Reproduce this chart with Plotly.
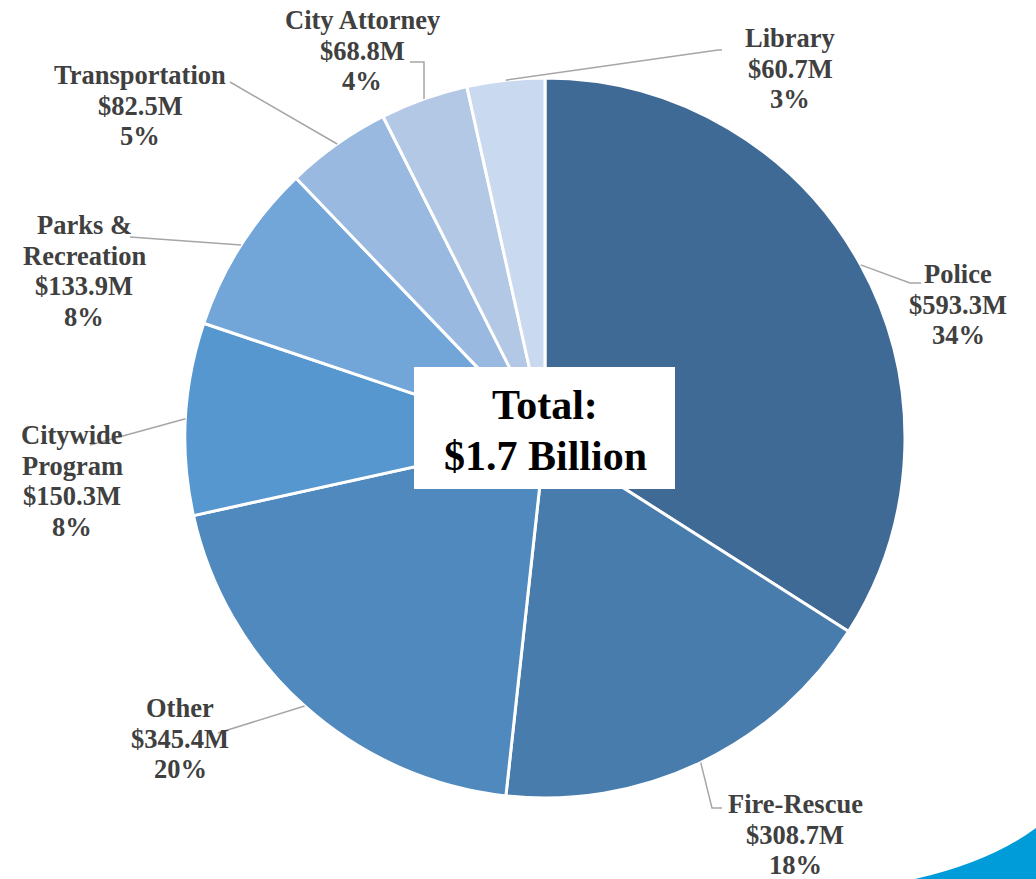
import math
import plotly.graph_objects as go

# ---- data ----
departments = ["Police", "Fire-Rescue", "Other", "Citywide Program",
               "Parks & Recreation", "Transportation", "City Attorney", "Library"]
budget_m = [593.3, 308.7, 345.4, 150.3, 133.9, 82.5, 68.8, 60.7]
value_labels = ["$593.3M", "$308.7M", "$345.4M", "$150.3M",
                "$133.9M", "$82.5M", "$68.8M", "$60.7M"]
pct_labels = ["34%", "18%", "20%", "8%", "8%", "5%", "4%", "3%"]
name_lines = [["Police"], ["Fire-Rescue"], ["Other"], ["Citywide", "Program"],
              ["Parks &", "Recreation"], ["Transportation"], ["City Attorney"], ["Library"]]
total_line1 = "Total:"
total_line2 = "$1.7 Billion"

# ---- styling / layout ----
W, H = 1036, 879
colors = ["#3f6a95", "#487cad", "#4f89bd", "#5797cf",
          "#72a5d8", "#99b9e0", "#b3c8e5", "#c9d9ef"]
CX, CY, R = 545, 438, 360  # pie centre and radius in pixels
LINE_GAP = 30.7
LABEL_FONT = dict(family="Liberation Serif", size=26.5, color="#404040")

def px(x):
    return x / W

def py(y):
    return 1 - y / H

# label centre x and first-line y (pixels), leader-line elbow paths (pixels)
label_pos = [(958, 274), (795, 804), (180, 708), (72, 435),
             (84, 225), (140, 75), (362, 20), (790, 38)]
leader_tail = [
    [(921, 283), (910, 283)],
    [(722, 808), (712, 808)],
    [(218, 733)],
    [(90, 445)],
    [(130, 237)],
    [(230, 82)],
    [(410, 62), (424, 62)],
    [(722, 50), (718, 50)],
]

fig = go.Figure(go.Pie(
    labels=departments,
    values=budget_m,
    sort=False,
    direction="clockwise",
    rotation=0,
    marker=dict(colors=colors, line=dict(color="white", width=3)),
    textinfo="none",
    hoverinfo="label+value",
    showlegend=False,
    domain=dict(x=[px(CX - R), px(CX + R)], y=[py(CY + R), py(CY - R)]),
))

shapes = []
annotations = []
total = sum(budget_m)
cum = 0.0
for i, v in enumerate(budget_m):
    mid = (cum + v / 2) / total * 2 * math.pi
    cum += v
    ex = CX + R * math.sin(mid)
    ey = CY - R * math.cos(mid)
    pts = leader_tail[i] + [(ex, ey)]
    path = "M " + " L ".join(f"{px(x):.5f},{py(y):.5f}" for x, y in pts)
    shapes.append(dict(type="path", xref="paper", yref="paper", path=path,
                       line=dict(color="#a6a6a6", width=1.5), layer="above"))
    lx, ly = label_pos[i]
    lines = name_lines[i] + [value_labels[i], pct_labels[i]]
    for k, t in enumerate(lines):
        annotations.append(dict(
            x=px(lx), y=py(ly + k * LINE_GAP), xref="paper", yref="paper",
            xanchor="center", yanchor="middle", showarrow=False, align="center",
            text=f"<b>{t}</b>", font=LABEL_FONT,
        ))

# centre total box
shapes.append(dict(type="rect", xref="paper", yref="paper",
                   x0=px(414), x1=px(675), y0=py(489), y1=py(367),
                   fillcolor="white", line=dict(width=0), layer="above"))
annotations.append(dict(x=px(545), y=py(405), xref="paper", yref="paper",
                        showarrow=False, xanchor="center", yanchor="middle",
                        text=f"<b>{total_line1}</b>",
                        font=dict(family="Liberation Serif", size=42, color="black")))
annotations.append(dict(x=px(545), y=py(456), xref="paper", yref="paper",
                        showarrow=False, xanchor="center", yanchor="middle",
                        text=f"<b>{total_line2}</b>",
                        font=dict(family="Liberation Serif", size=42, color="black")))

# decorative swoosh bottom-right
sw = [(915, 879), (990, 862), (1036, 828)]
shapes.append(dict(type="path", xref="paper", yref="paper",
                   path=(f"M {px(sw[0][0]):.5f},{py(sw[0][1]):.5f} "
                         f"Q {px(sw[1][0]):.5f},{py(sw[1][1]):.5f} {px(sw[2][0]):.5f},{py(sw[2][1]):.5f} "
                         f"L {px(1036):.5f},{py(879):.5f} Z"),
                   fillcolor="#009bd9", line=dict(width=0), layer="above"))

fig.update_layout(
    width=W, height=H,
    margin=dict(l=0, r=0, t=0, b=0),
    paper_bgcolor="white", plot_bgcolor="white",
    shapes=shapes, annotations=annotations,
)

fig.write_html("out.html",
               config={"displayModeBar": False},
               post_script="document.body.style.margin='0';document.body.style.overflow='hidden';")
